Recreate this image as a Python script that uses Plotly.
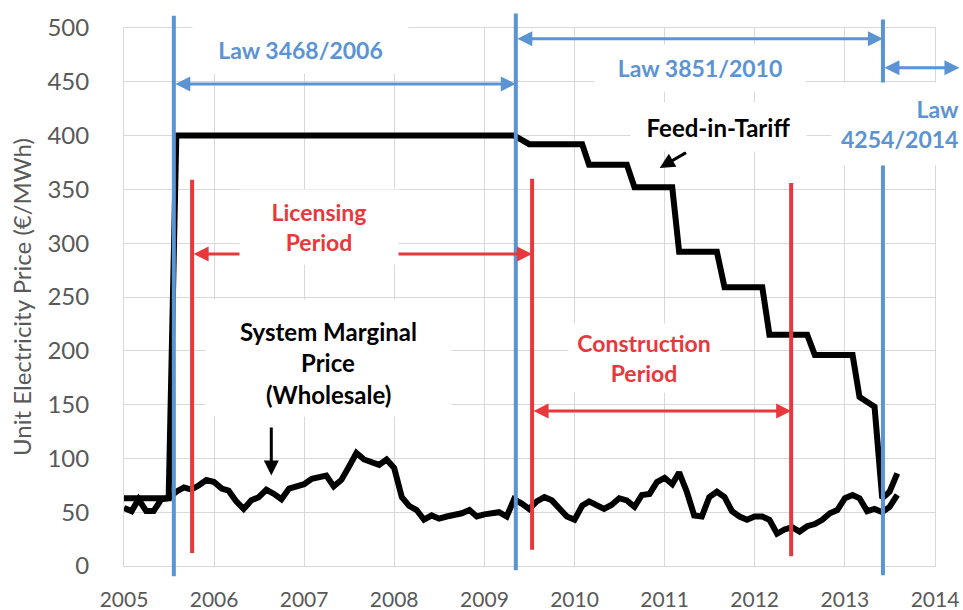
import plotly.graph_objects as go
import pandas as pd

# ---------------- data ----------------
months = pd.date_range("2005-01-01", periods=104, freq="MS")  # Jan 2005 .. Aug 2013

smp = [54, 51, 62, 51, 51, 62, 63, 69, 73, 71, 75, 80,
       78, 72, 70, 60, 53, 61, 64, 71, 67, 62, 72, 74,
       76, 81, 82, 84, 74, 80, 92, 105, 99, 96, 94, 99,
       91, 64, 56, 52, 43, 47, 44, 46, 47, 49, 52, 46,
       48, 49, 50, 46, 62, 58, 53, 60, 64, 61, 53, 46,
       43, 56, 60, 56, 53, 57, 63, 61, 55, 66, 67, 78,
       82, 76, 87, 69, 47, 46, 64, 69, 64, 51, 46, 43,
       46, 46, 43, 30, 34, 36, 32, 37, 39, 43, 49, 52,
       63, 66, 63, 51, 53, 50, 55, 66]

fit = [63, 63, 63, 63, 63, 63, 63, 400, 400, 400, 400, 400,
       400, 400, 400, 400, 400, 400, 400, 400, 400, 400, 400, 400,
       400, 400, 400, 400, 400, 400, 400, 400, 400, 400, 400, 400,
       400, 400, 400, 400, 400, 400, 400, 400, 400, 400, 400, 400,
       400, 400, 400, 400, 400, 396, 392, 392, 392, 392, 392, 392,
       392, 392, 373, 373, 373, 373, 373, 373, 352, 352, 352, 352,
       352, 352, 292, 292, 292, 292, 292, 292, 259, 259, 259, 259,
       259, 259, 215, 215, 215, 215, 215, 215, 196, 196, 196, 196,
       196, 196, 157, 153, 148, 63, 69, 86]

law_dates = ["2005-07-22", "2009-05-08", "2013-06-04"]
law_arrow_end = "2014-04-10"
law_labels = ["Law 3468/2006", "Law 3851/2010", "Law<br>4254/2014"]
law_arrow_levels = [448, 490, 463]

period_dates = ["2005-10-04", "2009-07-13", "2012-05-28"]
period_labels = ["Licensing<br>Period", "Construction<br>Period"]
period_arrow_levels = [290, 144]

smp_label = ["System Marginal", "Price", "(Wholesale)"]
fit_label = "Feed-in-Tariff"

y_ticks = [0, 50, 100, 150, 200, 250, 300, 350, 400, 450, 500]

# ---------------- style ----------------
BLUE = "#5B93D3"
RED = "#E8383B"
GREY = "#595959"
GRID = "#D9D9D9"
FONT = "Lato"

fig = go.Figure()
fig.add_trace(go.Scatter(x=months, y=fit, mode="lines",
                         line=dict(color="black", width=6), showlegend=False))
fig.add_trace(go.Scatter(x=months, y=smp, mode="lines",
                         line=dict(color="black", width=6), showlegend=False))

shapes = []
# blue law lines (extend slightly beyond plot area)
blue_ext = [(-0.019, 1.023), (-0.008, 1.027), (-0.017, 1.016)]
for d, (b, t) in zip(law_dates, blue_ext):
    shapes.append(dict(type="line", xref="x", yref="paper", x0=d, x1=d, y0=b, y1=t,
                       line=dict(color=BLUE, width=4), layer="above"))
# red period lines
red_ext = [(12, 359), (15, 360), (9, 356)]
for d, (b, t) in zip(period_dates, red_ext):
    shapes.append(dict(type="line", xref="x", yref="y", x0=d, x1=d, y0=b, y1=t,
                       line=dict(color=RED, width=4), layer="above"))

ann = []

def dbl_arrow(x0, x1, y, color):
    return dict(x=x1, y=y, ax=x0, ay=y, xref="x", yref="y", axref="x", ayref="y",
                text="", showarrow=True, arrowside="end+start",
                arrowhead=2, startarrowhead=2, arrowsize=1, startarrowsize=1,
                arrowwidth=3, arrowcolor=color, standoff=0, startstandoff=0)

# law arrows
ann.append(dbl_arrow(law_dates[0], law_dates[1], law_arrow_levels[0], BLUE))
ann.append(dbl_arrow(law_dates[1], law_dates[2], law_arrow_levels[1], BLUE))
ann.append(dbl_arrow(law_dates[2], law_arrow_end, law_arrow_levels[2], BLUE))
# period arrows
ann.append(dbl_arrow(period_dates[0], period_dates[1], period_arrow_levels[0], RED))
ann.append(dbl_arrow(period_dates[1], period_dates[2], period_arrow_levels[1], RED))

# pointer arrows
ann.append(dict(x="2006-08-21", y=84, ax="2006-08-21", ay=130, xref="x", yref="y",
                axref="x", ayref="y", text="", showarrow=True, arrowhead=2,
                arrowsize=1, arrowwidth=3, arrowcolor="black", standoff=0))
ann.append(dict(x="2010-12-12", y=370, ax="2011-04-04", ay=385, xref="x", yref="y",
                axref="x", ayref="y", text="", showarrow=True, arrowhead=2,
                arrowsize=1, arrowwidth=3, arrowcolor="black", standoff=0))


def px_x(p):
    return (p - 124) / 811.0


def px_y(p):
    return (565.7 - p) / 537.4


def label(text, cx, cy, w, h, color, size, align="center", xanchor="center"):
    return dict(x=px_x(cx), y=px_y(cy), xref="paper", yref="paper", text=text,
                showarrow=False, xanchor=xanchor, yanchor="middle", align=align,
                width=w, height=h, bgcolor="white", borderpad=0,
                font=dict(family=FONT, size=size, color=color, weight="bold"))

ann.append(label(law_labels[0], 300, 50, 215, 46, BLUE, 23))
ann.append(label(law_labels[1], 700, 68, 210, 46, BLUE, 23))
ann.append(label(law_labels[2], 960, 124, 127, 82, BLUE, 23, align="right", xanchor="right"))
ann.append(label(fit_label, 718, 127, 175, 48, "black", 24))
ann.append(label(period_labels[0], 319, 227, 158, 74, RED, 23))
ann.append(label(period_labels[1], 644, 358, 150, 68, RED, 23))
# SMP text box and lines
ann.append(dict(x=px_x(328), y=px_y(358), xref="paper", yref="paper", text=" ",
                showarrow=False, xanchor="center", yanchor="middle",
                width=245, height=116, bgcolor="white", borderpad=0))
for t, cy in zip(smp_label, [331, 362, 394]):
    ann.append(dict(x=px_x(328), y=px_y(cy), xref="paper", yref="paper", text=t,
                    showarrow=False, xanchor="center", yanchor="middle",
                    font=dict(family=FONT, size=24, color="black", weight="bold")))

fig.update_layout(
    width=963, height=610,
    margin=dict(l=124, r=28, t=28, b=44),
    paper_bgcolor="white", plot_bgcolor="white",
    shapes=shapes, annotations=ann,
    font=dict(family=FONT, color=GREY),
)
fig.update_xaxes(type="date", range=["2005-01-01", "2014-01-01"], dtick="M12",
                 tickformat="%Y", showgrid=True, gridcolor=GRID, gridwidth=1,
                 showline=True, linecolor=GRID, linewidth=1, mirror=True,
                 zeroline=False, ticks="", tickfont=dict(family=FONT, size=21, color=GREY),
                 ticklabelstandoff=15, automargin=False)
fig.update_yaxes(range=[0, 500], tickvals=y_ticks, showgrid=True, gridcolor=GRID,
                 gridwidth=1, showline=True, linecolor=GRID, linewidth=1, mirror=True,
                 zeroline=False, ticks="", tickfont=dict(family=FONT, size=24, color=GREY),
                 ticklabelstandoff=29, automargin=False,
                 title=dict(text="Unit Electricity Price (€/MWh)",
                            font=dict(family=FONT, size=24, color=GREY), standoff=9))

fig.write_html("out.html", config={"displayModeBar": False},
               post_script="document.body.style.margin='0px';")
